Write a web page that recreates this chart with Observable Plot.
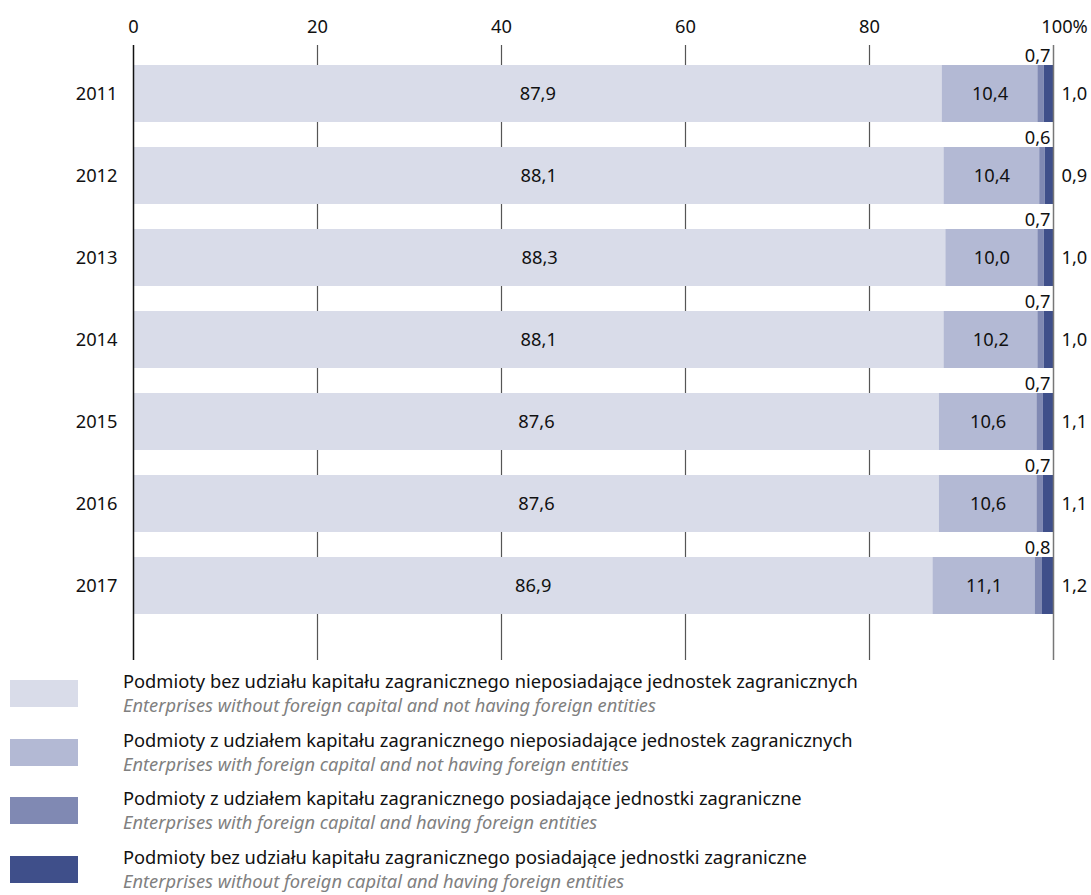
<!DOCTYPE html>
<html><head><meta charset="utf-8">
<script src="https://cdn.jsdelivr.net/npm/d3@7"></script>
<script src="https://cdn.jsdelivr.net/npm/@observablehq/plot@0.6"></script>
<style>
body{margin:0;background:#fff;font-family:"Noto Sans",sans-serif;}
#wrap{position:relative;width:1091px;height:895px;}
.item{position:absolute;left:0;width:1091px;height:50px;}
.sw{position:absolute;left:10px;top:9px;width:68px;height:27px;}
.pl{position:absolute;left:123px;top:-2px;font-size:18.3px;line-height:24px;color:#111;white-space:nowrap;}
.en{position:absolute;left:123px;top:22px;font-size:18.3px;line-height:24px;color:#808080;font-style:italic;white-space:nowrap;}
</style></head>
<body><div id="wrap"><div id="chart"></div><div id="legend"></div></div>
<script>
const years = ["2011","2012","2013","2014","2015","2016","2017"];
const noForeignNoEntities = [87.9, 88.1, 88.3, 88.1, 87.6, 87.6, 86.9];
const foreignNoEntities   = [10.4, 10.4, 10.0, 10.2, 10.6, 10.6, 11.1];
const foreignEntities     = [0.7, 0.6, 0.7, 0.7, 0.7, 0.7, 0.8];
const noForeignEntities   = [1.0, 0.9, 1.0, 1.0, 1.1, 1.1, 1.2];
const categoriesPl = [
  "Podmioty bez udziału kapitału zagranicznego nieposiadające jednostek zagranicznych",
  "Podmioty z udziałem kapitału zagranicznego nieposiadające jednostek zagranicznych",
  "Podmioty z udziałem kapitału zagranicznego posiadające jednostki zagraniczne",
  "Podmioty bez udziału kapitału zagranicznego posiadające jednostki zagraniczne"
];
const categoriesEn = [
  "Enterprises without foreign capital and not having foreign entities",
  "Enterprises with foreign capital and not having foreign entities",
  "Enterprises with foreign capital and having foreign entities",
  "Enterprises without foreign capital and having foreign entities"
];
const colors = ["#d9dce9", "#b3b9d4", "#8089b3", "#3f4f8a"];
const xTicks = [0, 20, 40, 60, 80];

const series = [noForeignNoEntities, foreignNoEntities, foreignEntities, noForeignEntities];
const data = [];
years.forEach((y, i) => series.forEach((s, k) => data.push({year: y, cat: categoriesPl[k], k, value: s[i]})));
const fmt = v => v.toFixed(1).replace(".", ",");
const font = "Noto Sans, sans-serif";
const fs = 18.3;

const chart = Plot.plot({
  width: 1091, height: 668,
  marginLeft: 133, marginRight: 38, marginTop: 45, marginBottom: 8,
  style: {fontFamily: font, fontSize: fs + "px", color: "#111", background: "#fff"},
  x: {domain: [0, 100], axis: null},
  y: {domain: years, range: [65, 614], paddingInner: 25/82, paddingOuter: 0, axis: null},
  color: {domain: categoriesPl, range: colors},
  marks: [
    Plot.ruleX([20, 40, 60, 80], {stroke: "#555", strokeWidth: 1.2}),
    Plot.barX(data, Plot.stackX({x: "value", y: "year", fill: "cat", order: null})),
    Plot.ruleX([0], {stroke: "#111", strokeWidth: 1.5}),
    Plot.ruleX([100], {stroke: "#777", strokeWidth: 1.5}),
    Plot.text(data, Plot.stackX({x: "value", y: "year", order: null, text: d => d.k < 2 ? fmt(d.value) : "", fill: "#111", fontSize: fs})),
    Plot.text(data.filter(d => d.k === 2), {x: 100, y: "year", text: d => fmt(d.value), textAnchor: "end", dx: -3, dy: -38, fill: "#111", fontSize: fs}),
    Plot.text(data.filter(d => d.k === 3), {x: 100, y: "year", text: d => fmt(d.value), textAnchor: "start", dx: 8, fill: "#111", fontSize: fs}),
    Plot.text(years, {x: 0, y: d => d, text: d => d, textAnchor: "end", dx: -16, fill: "#111", fontSize: fs}),
    Plot.text(xTicks, {x: d => d, frameAnchor: "top", lineAnchor: "middle", dy: -18, text: d => String(d), fill: "#111", fontSize: fs}),
    Plot.text([100], {x: d => d, frameAnchor: "top", lineAnchor: "middle", dy: -18, text: () => "100%", textAnchor: "middle", dx: 11, fill: "#111", fontSize: fs})
  ]
});
document.getElementById("chart").appendChild(chart);

const legend = document.getElementById("legend");
categoriesPl.forEach((c, i) => {
  const it = document.createElement("div");
  it.className = "item";
  it.style.top = (671 + 58.5 * i) + "px";
  it.innerHTML = `<div class="sw" style="background:${colors[i]}"></div><div class="pl">${c}</div><div class="en">${categoriesEn[i]}</div>`;
  legend.appendChild(it);
});
</script></body></html>
